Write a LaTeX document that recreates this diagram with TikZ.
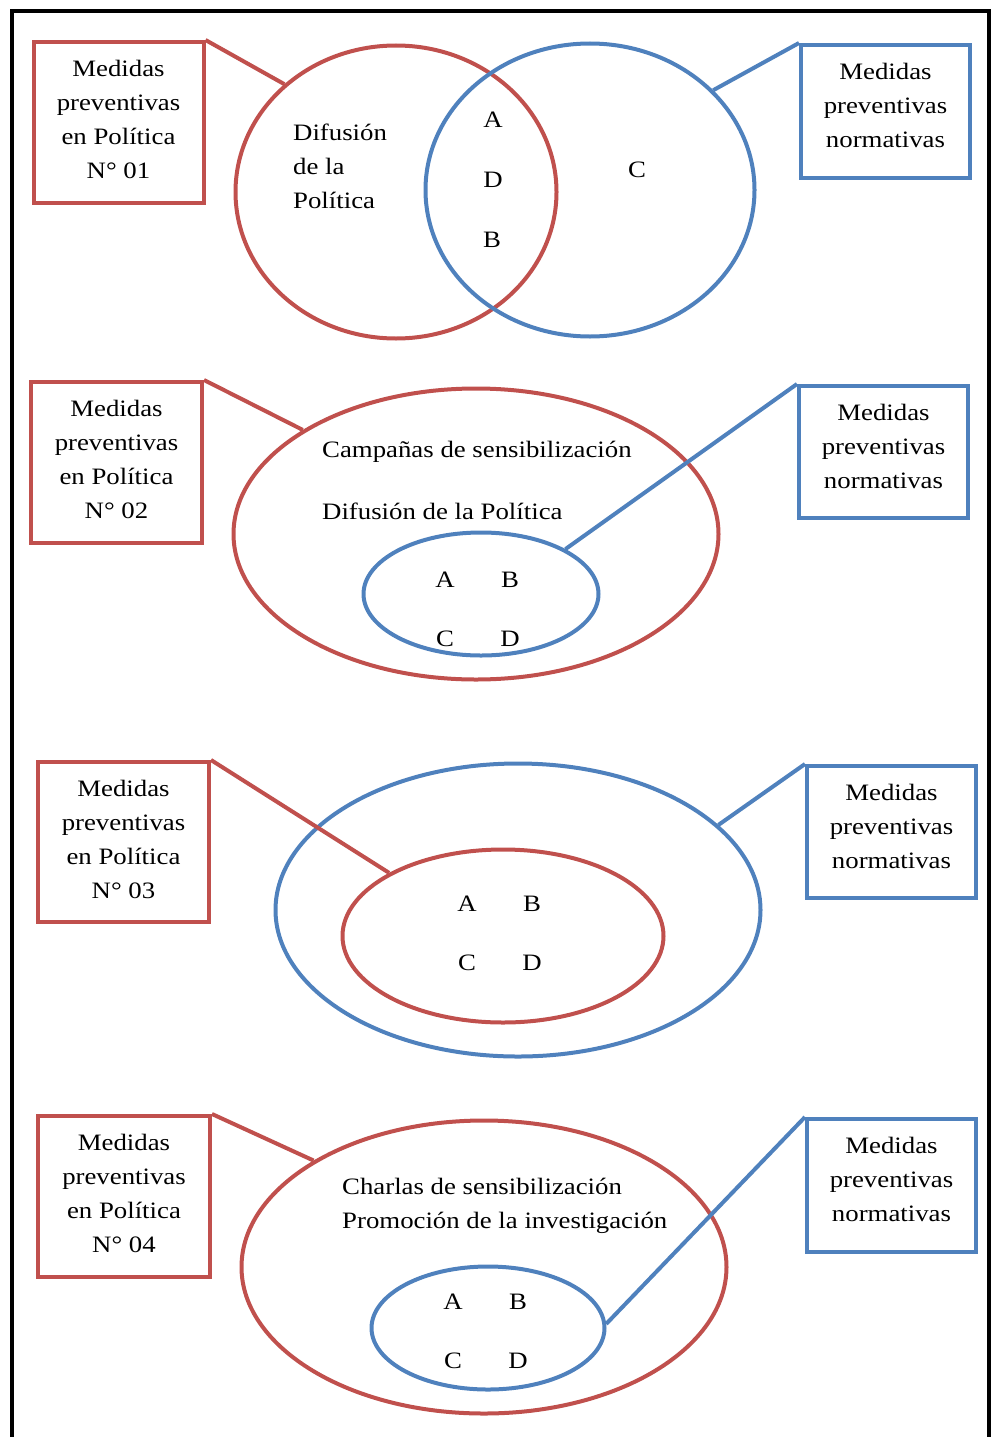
\documentclass[tikz,border=0pt]{standalone}
\usepackage{fontspec}
\setmainfont{Liberation Serif}[FakeStretch=1.14]
\usetikzlibrary{shapes.geometric}
\definecolor{vred}{RGB}{192,80,77}
\definecolor{vblue}{RGB}{79,129,189}
\tikzset{
  txt/.style={font=\fontsize{23.5}{34}\selectfont, inner sep=0pt},
  box/.style={line width=4pt, minimum width=170pt, inner sep=0pt},
  redbox/.style={box, draw=vred},
  bluebox/.style={box, draw=vblue},
  boxtext/.style={txt, align=center},
  oval/.style={ellipse, line width=4pt, inner sep=0pt},
  redoval/.style={oval, draw=vred},
  blueoval/.style={oval, draw=vblue},
  redlink/.style={draw=vred, line width=4pt},
  bluelink/.style={draw=vblue, line width=4pt},
}
\begin{document}
\begin{tikzpicture}[x=1pt,y=-1pt]
\useasboundingbox (0,0) rectangle (994,1437);
% outer frame, open at the bottom
\coordinate (fbl) at (12,1440);
\coordinate (ftl) at (12,11);
\coordinate (ftr) at (989,11);
\coordinate (fbr) at (989,1440);
\draw[line width=4pt, line join=miter] (fbl) -- (ftl) -- (ftr) -- (fbr);

% ---------- N 01 ----------
\node[redoval, minimum width=321pt, minimum height=293pt] (e1r) at (396,192) {};
\node[blueoval, minimum width=329pt, minimum height=293pt] (e1b) at (590,190) {};
\node[redbox, minimum height=161pt] (rb1) at (118.5,122.5) {};
\node[boxtext] (rt1) at ([yshift=3pt]rb1.center) {Medidas\\preventivas\\en Política\\N° 01};
\node[bluebox, minimum width=169pt, minimum height=133pt] (bb1) at (885.5,111.5) {};
\node[boxtext] (bt1) at ([yshift=6pt]bb1.center) {Medidas\\preventivas\\normativas};
\draw[redlink] (rb1.north east) -- (e1r.136);
\draw[bluelink] (bb1.north west) -- (e1b.39);
\node[txt, align=left, anchor=west] (t1) at (293,166) {Difusión\\de la\\Política};
\node[txt] (a1) at (493,120) {A};
\node[txt] (d1) at (493,180) {D};
\node[txt] (b1) at (492,240) {B};
\node[txt] (c1) at (637,170) {C};

% ---------- N 02 ----------
\node[redoval, minimum width=485pt, minimum height=291pt] (e2r) at (476,534) {};
\node[blueoval, minimum width=235pt, minimum height=123pt] (e2b) at (481,594) {};
\node[redbox, minimum width=171pt, minimum height=161pt] (rb2) at (116.5,462.5) {};
\node[boxtext] (rt2) at ([yshift=3pt]rb2.center) {Medidas\\preventivas\\en Política\\N° 02};
\node[bluebox, minimum width=169pt, minimum height=132pt] (bb2) at (883.5,452) {};
\node[boxtext] (bt2) at ([yshift=6pt]bb2.center) {Medidas\\preventivas\\normativas};
\draw[redlink] (rb2.north east) -- (e2r.149);
\draw[bluelink] (bb2.north west) -- (e2b.28);
\node[txt, anchor=west] (t2a) at (322,452) {Campañas de sensibilización};
\node[txt, anchor=west] (t2b) at (322,511) {Difusión de la Política};
\node[txt] (a2) at (445,580) {A};
\node[txt] (b2) at (510,580) {B};
\node[txt] (c2) at (445,639) {C};
\node[txt] (d2) at (510,639) {D};

% ---------- N 03 ----------
\node[blueoval, minimum width=485pt, minimum height=293pt] (e3b) at (518,910) {};
\node[redoval, minimum width=321pt, minimum height=173pt] (e3r) at (503,936) {};
\node[redbox, minimum width=171pt, minimum height=160pt] (rb3) at (123.5,842) {};
\node[boxtext] (rt3) at ([yshift=3pt]rb3.center) {Medidas\\preventivas\\en Política\\N° 03};
\node[bluebox, minimum width=169pt, minimum height=132pt] (bb3) at (891.5,832) {};
\node[boxtext] (bt3) at ([yshift=6pt]bb3.center) {Medidas\\preventivas\\normativas};
\draw[redlink] (rb3.north east) -- (e3r.151);
\draw[bluelink] (bb3.north west) -- (e3b.23);
\node[txt] (a3) at (467,904) {A};
\node[txt] (b3) at (532,904) {B};
\node[txt] (c3) at (467,963) {C};
\node[txt] (d3) at (532,963) {D};

% ---------- N 04 ----------
\node[redoval, minimum width=485pt, minimum height=293pt] (e4r) at (484,1267) {};
\node[blueoval, minimum width=233pt, minimum height=123pt] (e4b) at (488,1328) {};
\node[redbox, minimum width=172pt, minimum height=161pt] (rb4) at (124,1196.5) {};
\node[boxtext] (rt4) at ([yshift=3pt]rb4.center) {Medidas\\preventivas\\en Política\\N° 04};
\node[bluebox, minimum width=169pt, minimum height=133pt] (bb4) at (891.5,1185.5) {};
\node[boxtext] (bt4) at ([yshift=6pt]bb4.center) {Medidas\\preventivas\\normativas};
\draw[redlink] (rb4.north east) -- (e4r.148);
\draw[bluelink] (bb4.north west) -- (e4b.2);
\node[txt, align=left, anchor=west] (t4) at (342,1206) {Charlas de sensibilización\\Promoción de la investigación};
\node[txt] (a4) at (453,1302) {A};
\node[txt] (b4) at (518,1302) {B};
\node[txt] (c4) at (453,1361) {C};
\node[txt] (d4) at (518,1361) {D};
\end{tikzpicture}
\end{document}
